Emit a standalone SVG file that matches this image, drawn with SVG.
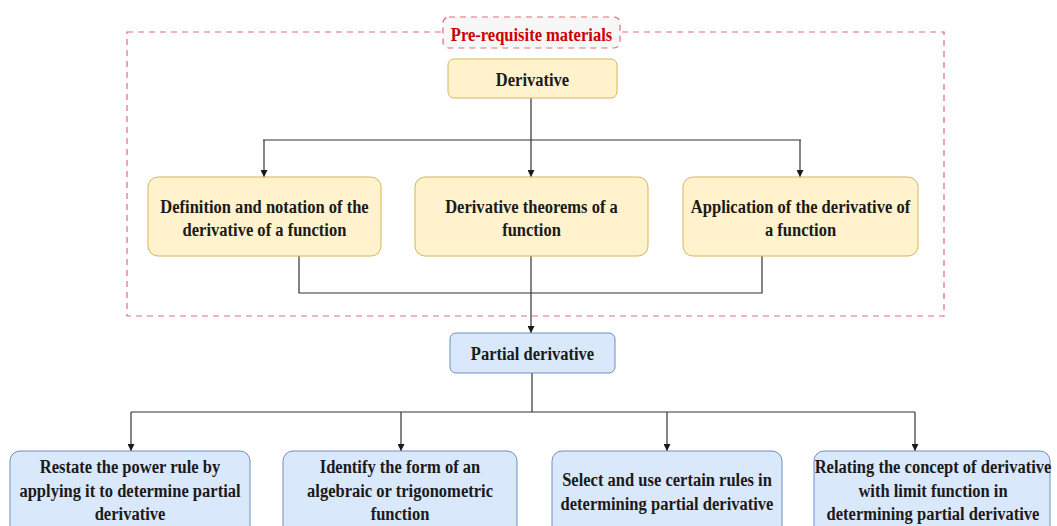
<svg xmlns="http://www.w3.org/2000/svg" width="1057" height="526" viewBox="0 0 1057 526">
<style>
.y{fill:#fff2cc;stroke:#d6b656;stroke-width:1}
.b{fill:#dae8fc;stroke:#6c8ebf;stroke-width:1}
.t{font-family:"Liberation Serif","Times New Roman",serif;font-weight:bold;font-size:19px;fill:#1a1a1a;text-anchor:middle}
.c{fill:none;stroke:#333;stroke-width:1.2}
</style>
<defs>
<marker id="ah" viewBox="0 0 10 10" refX="10" refY="5" markerWidth="7" markerHeight="7" orient="auto" markerUnits="userSpaceOnUse">
<path d="M0,0 L10,5 L0,10 Z" fill="#1a1a1a"/>
</marker>
</defs>
<rect width="1057" height="526" fill="#fff"/>
<g id="prereq">
<rect x="127" y="32" width="817" height="284" fill="none" stroke="#e06c75" stroke-width="1.2" stroke-dasharray="6,5"/>
<rect x="443" y="17" width="177" height="31" rx="6" fill="#f7f7f7" stroke="#e06c75" stroke-width="1.2" stroke-dasharray="6,5"/>
<text class="t" transform="translate(531.5,41) scale(0.87,1)" style="fill:#cc0000">Pre-requisite materials</text>
</g>
<g id="connectors">
<path class="c" d="M531,98 V140 M263,140 H801"/>
<path class="c" d="M264,140 V177" marker-end="url(#ah)"/>
<path class="c" d="M531,140 V177" marker-end="url(#ah)"/>
<path class="c" d="M800,140 V177" marker-end="url(#ah)"/>
<path class="c" d="M299,256 V293 H762 V256"/>
<path class="c" d="M531,256 V333" marker-end="url(#ah)"/>
<path class="c" d="M532,373 V412 M131,412 H915"/>
<path class="c" d="M131,412 V451" marker-end="url(#ah)"/>
<path class="c" d="M401,412 V451" marker-end="url(#ah)"/>
<path class="c" d="M667,412 V451" marker-end="url(#ah)"/>
<path class="c" d="M915,412 V451" marker-end="url(#ah)"/>
</g>
<g id="derivative">
<rect class="y" x="448" y="59" width="169" height="39" rx="6"/>
<text class="t" transform="translate(532.5,86) scale(0.87,1)">Derivative</text>
</g>
<g id="definition">
<rect class="y" x="148" y="177" width="233" height="79" rx="10"/>
<text class="t" transform="translate(264.5,213) scale(0.87,1)">Definition and notation of the</text>
<text class="t" transform="translate(264.5,236) scale(0.87,1)">derivative of a function</text>
</g>
<g id="theorems">
<rect class="y" x="415" y="177" width="233" height="79" rx="10"/>
<text class="t" transform="translate(531.5,213) scale(0.87,1)">Derivative theorems of a</text>
<text class="t" transform="translate(531.5,236) scale(0.87,1)">function</text>
</g>
<g id="application">
<rect class="y" x="683" y="177" width="235" height="79" rx="10"/>
<text class="t" transform="translate(800.5,213) scale(0.87,1)">Application of the derivative of</text>
<text class="t" transform="translate(800.5,236) scale(0.87,1)">a function</text>
</g>
<g id="partial">
<rect class="b" x="450" y="333" width="165" height="40" rx="6"/>
<text class="t" transform="translate(532.5,360) scale(0.87,1)">Partial derivative</text>
</g>
<g id="power">
<rect class="b" x="10" y="451" width="240" height="85" rx="10"/>
<text class="t" transform="translate(130,473) scale(0.87,1)">Restate the power rule by</text>
<text class="t" transform="translate(130,497) scale(0.87,1)">applying it to determine partial</text>
<text class="t" transform="translate(130,520) scale(0.87,1)">derivative</text>
</g>
<g id="identify">
<rect class="b" x="283" y="451" width="234" height="85" rx="10"/>
<text class="t" transform="translate(400,473) scale(0.87,1)">Identify the form of an</text>
<text class="t" transform="translate(400,497) scale(0.87,1)">algebraic or trigonometric</text>
<text class="t" transform="translate(400,520) scale(0.87,1)">function</text>
</g>
<g id="select">
<rect class="b" x="552" y="451" width="230" height="85" rx="10"/>
<text class="t" transform="translate(667,486) scale(0.87,1)">Select and use certain rules in</text>
<text class="t" transform="translate(667,510) scale(0.87,1)">determining partial derivative</text>
</g>
<g id="relating">
<rect class="b" x="814" y="451" width="236" height="85" rx="10"/>
<text class="t" transform="translate(933,473) scale(0.87,1)">Relating the concept of derivative</text>
<text class="t" transform="translate(933,497) scale(0.87,1)">with limit function in</text>
<text class="t" transform="translate(933,520) scale(0.87,1)">determining partial derivative</text>
</g>
</svg>
